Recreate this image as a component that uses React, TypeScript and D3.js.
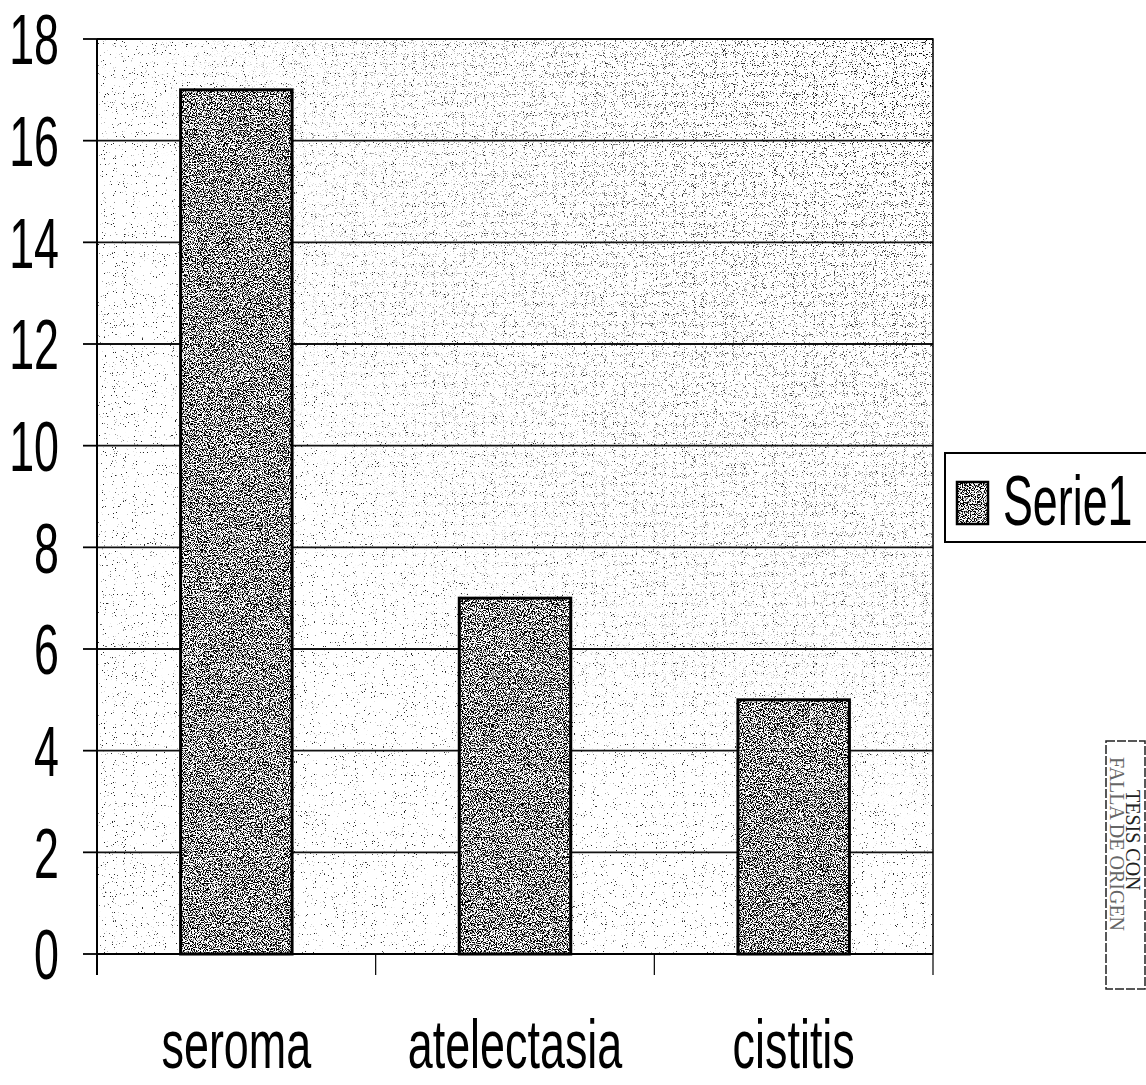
import { useEffect, useRef } from "react";
import * as d3 from "d3";

const categories = ["seroma", "atelectasia", "cistitis"];
const values = [17, 7, 5];
const yTicks = [0, 2, 4, 6, 8, 10, 12, 14, 16, 18];
const seriesName = "Serie1";
const stampLines = ["TESIS CON", "FALLA DE ORIGEN"];

const W = 1146;
const H = 1085;
const plot = { left: 97, right: 933, top: 39, bottom: 954 };
const squeeze = 0.64;
const font = "'Liberation Sans', Arial, sans-serif";

type Sel = d3.Selection<SVGSVGElement, unknown, null, undefined>;

function App() {
    const svgRef = useRef<SVGSVGElement | null>(null);
    useEffect(() => {
        document.body.style.margin = "0";
        const svg = d3.select(svgRef.current!);
        svg.selectAll("*").remove();
        draw(svg);
    }, []);
    return <svg ref={svgRef} width={W} height={H} style={{ display: "block", background: "#fff" }} />;
}

// noise -> black dots, threshold decides how dense
function stipple(defs: d3.Selection<SVGDefsElement, unknown, null, undefined>, id: string, freq: number, slope: number, cut: number, seed: number) {
    const f = defs.append("filter").attr("id", id)
        .attr("filterUnits", "objectBoundingBox")
        .attr("x", 0).attr("y", 0).attr("width", 1).attr("height", 1)
        .attr("color-interpolation-filters", "sRGB");
    f.append("feTurbulence").attr("type", "fractalNoise")
        .attr("baseFrequency", freq).attr("numOctaves", 2).attr("seed", seed).attr("result", "n");
    f.append("feColorMatrix").attr("type", "matrix")
        .attr("values", "0 0 0 0 0  0 0 0 0 0  0 0 0 0 0  1 0 0 0 0");
    f.append("feComponentTransfer").append("feFuncA")
        .attr("type", "linear").attr("slope", slope).attr("intercept", -cut * slope);
}

function draw(svg: Sel) {
    const x = d3.scaleBand<string>().domain(categories)
        .range([plot.left, plot.right]).paddingInner(0.6).paddingOuter(0.3);
    const y = d3.scaleLinear().domain([0, 18]).range([plot.bottom, plot.top]);
    const step = x.step();

    const defs = svg.append("defs");
    stipple(defs, "light", 0.9, 14, 0.70, 3);
    stipple(defs, "extra", 0.9, 14, 0.64, 11);
    stipple(defs, "dense", 0.85, 10, 0.47, 7);

    const rg = defs.append("radialGradient").attr("id", "corner")
        .attr("gradientUnits", "userSpaceOnUse")
        .attr("cx", plot.right).attr("cy", plot.top).attr("r", 800);
    rg.append("stop").attr("offset", 0).attr("stop-color", "#fff");
    rg.append("stop").attr("offset", 1).attr("stop-color", "#000");
    defs.append("mask").attr("id", "cornerMask")
        .append("rect").attr("x", plot.left).attr("y", plot.top)
        .attr("width", plot.right - plot.left).attr("height", plot.bottom - plot.top)
        .attr("fill", "url(#corner)");

    // plot background
    const bg = svg.append("g");
    bg.append("rect").attr("x", plot.left).attr("y", plot.top)
        .attr("width", plot.right - plot.left).attr("height", plot.bottom - plot.top)
        .attr("fill", "#fff");
    bg.append("rect").attr("x", plot.left).attr("y", plot.top)
        .attr("width", plot.right - plot.left).attr("height", plot.bottom - plot.top)
        .attr("filter", "url(#light)").attr("opacity", 0.85);
    bg.append("rect").attr("x", plot.left).attr("y", plot.top)
        .attr("width", plot.right - plot.left).attr("height", plot.bottom - plot.top)
        .attr("filter", "url(#extra)").attr("mask", "url(#cornerMask)");

    // gridlines
    svg.append("g").selectAll("line").data(yTicks.filter(d => d > 0)).join("line")
        .attr("x1", plot.left).attr("x2", plot.right)
        .attr("y1", d => y(d)).attr("y2", d => y(d))
        .attr("stroke", "#111").attr("stroke-width", 1.8);

    // bars
    const bars = svg.append("g").selectAll("g").data(values).join("g");
    bars.append("rect")
        .attr("x", (_, i) => x(categories[i])!).attr("y", d => y(d))
        .attr("width", x.bandwidth()).attr("height", d => y(0) - y(d))
        .attr("fill", "#fff");
    bars.append("rect")
        .attr("x", (_, i) => x(categories[i])!).attr("y", d => y(d))
        .attr("width", x.bandwidth()).attr("height", d => y(0) - y(d))
        .attr("filter", "url(#dense)");
    bars.append("rect")
        .attr("x", (_, i) => x(categories[i])!).attr("y", d => y(d))
        .attr("width", x.bandwidth()).attr("height", d => y(0) - y(d))
        .attr("fill", "none").attr("stroke", "#000").attr("stroke-width", 3);

    // frame and axes
    const ax = svg.append("g").attr("stroke", "#000").attr("fill", "none");
    ax.append("path")
        .attr("d", `M${plot.left},${plot.top}H${plot.right}V${plot.bottom}`)
        .attr("stroke-width", 1.5);
    ax.append("line").attr("x1", plot.left).attr("x2", plot.left)
        .attr("y1", plot.top).attr("y2", plot.bottom + 21).attr("stroke-width", 2);
    ax.append("line").attr("x1", plot.left).attr("x2", plot.right)
        .attr("y1", plot.bottom).attr("y2", plot.bottom).attr("stroke-width", 2);
    ax.selectAll("line.yt").data(yTicks).join("line").attr("class", "yt")
        .attr("x1", plot.left - 14).attr("x2", plot.left)
        .attr("y1", d => y(d)).attr("y2", d => y(d)).attr("stroke-width", 1.8);
    const bounds = categories.map(c => x(c)! - (step - x.bandwidth()) / 2).concat([plot.right]);
    ax.selectAll("line.xt").data(bounds).join("line").attr("class", "xt")
        .attr("x1", d => d).attr("x2", d => d)
        .attr("y1", plot.bottom).attr("y2", plot.bottom + 21).attr("stroke-width", 1.2);

    // y labels
    svg.append("g").selectAll("g").data(yTicks).join("g")
        .attr("transform", d => `translate(59,${y(d)})`)
        .append("text")
        .attr("transform", `scale(${squeeze},1)`)
        .attr("text-anchor", "end").attr("dy", "0.36em")
        .attr("font-family", font).attr("font-size", 70)
        .text(d => d);

    // category labels
    svg.append("g").selectAll("g").data(categories).join("g")
        .attr("transform", c => `translate(${x(c)! + x.bandwidth() / 2},1068)`)
        .append("text")
        .attr("transform", `scale(${squeeze + 0.02},1)`)
        .attr("text-anchor", "middle")
        .attr("font-family", font).attr("font-size", 68)
        .text(c => c);

    // legend
    const leg = svg.append("g");
    leg.append("rect").attr("x", 945).attr("y", 453).attr("width", 215).attr("height", 89)
        .attr("fill", "#fff").attr("stroke", "#000").attr("stroke-width", 2);
    leg.append("rect").attr("x", 957).attr("y", 482).attr("width", 31).attr("height", 42)
        .attr("fill", "#fff");
    leg.append("rect").attr("x", 957).attr("y", 482).attr("width", 31).attr("height", 42)
        .attr("filter", "url(#dense)");
    leg.append("rect").attr("x", 957).attr("y", 482).attr("width", 31).attr("height", 42)
        .attr("fill", "none").attr("stroke", "#000").attr("stroke-width", 2.5);
    leg.append("g").attr("transform", "translate(1003,525)")
        .append("text").attr("transform", `scale(${squeeze},1)`)
        .attr("font-family", font).attr("font-size", 70).text(seriesName);

    // stamp
    const st = svg.append("g");
    st.append("rect").attr("x", 1106).attr("y", 741).attr("width", 39).attr("height", 248)
        .attr("fill", "none").attr("stroke", "#222").attr("stroke-width", 1.5)
        .attr("stroke-dasharray", "9 2");
    st.append("text").attr("transform", "translate(1126,790) rotate(90)")
        .attr("font-family", "'Liberation Serif', serif").attr("font-size", 20)
        .attr("fill", "#222").text(stampLines[0]);
    st.append("text").attr("transform", "translate(1110,757) rotate(90)")
        .attr("font-family", "'Liberation Serif', serif").attr("font-size", 20)
        .attr("fill", "#666").text(stampLines[1]);
}

export default App;
